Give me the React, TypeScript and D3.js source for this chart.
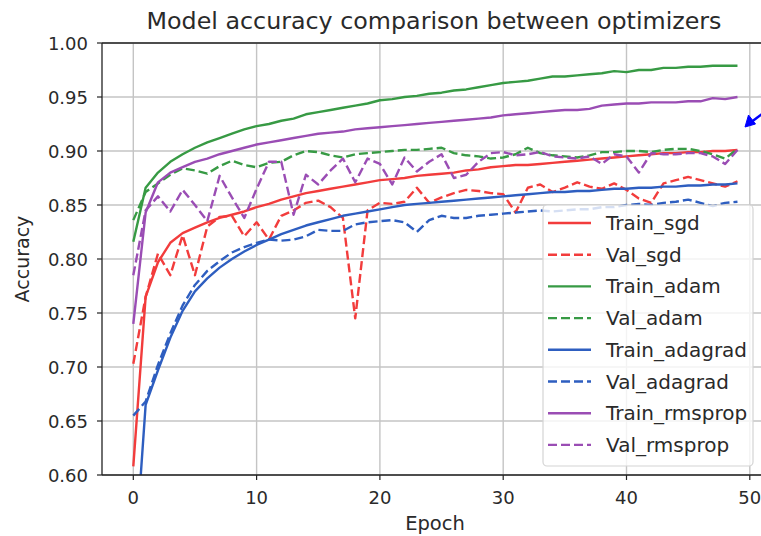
import React from "react";
import * as d3 from "d3";

const title = "Model accuracy comparison between optimizers";
const xTicks = [0, 10, 20, 30, 40, 50];
const yTicks = [0.6, 0.65, 0.7, 0.75, 0.8, 0.85, 0.9, 0.95, 1.0];

const trainSgd = [0.608, 0.765, 0.797, 0.815, 0.824, 0.829, 0.834, 0.838, 0.841, 0.844, 0.848, 0.851, 0.855, 0.858, 0.861, 0.863, 0.865, 0.867, 0.869, 0.871, 0.873, 0.874, 0.875, 0.877, 0.878, 0.879, 0.880, 0.882, 0.883, 0.885, 0.886, 0.887, 0.887, 0.888, 0.889, 0.890, 0.891, 0.892, 0.893, 0.894, 0.895, 0.896, 0.897, 0.898, 0.898, 0.899, 0.899, 0.900, 0.900, 0.901];
const valSgd = [0.703, 0.765, 0.805, 0.785, 0.822, 0.785, 0.830, 0.839, 0.840, 0.821, 0.834, 0.818, 0.840, 0.845, 0.852, 0.854, 0.848, 0.838, 0.745, 0.845, 0.852, 0.851, 0.853, 0.866, 0.852, 0.857, 0.861, 0.864, 0.863, 0.861, 0.860, 0.843, 0.866, 0.869, 0.862, 0.866, 0.871, 0.867, 0.865, 0.870, 0.864, 0.856, 0.852, 0.870, 0.873, 0.876, 0.873, 0.870, 0.867, 0.872];
const trainAdam = [0.816, 0.866, 0.880, 0.890, 0.897, 0.903, 0.908, 0.912, 0.916, 0.920, 0.923, 0.925, 0.928, 0.930, 0.934, 0.936, 0.938, 0.940, 0.942, 0.944, 0.947, 0.948, 0.950, 0.951, 0.953, 0.954, 0.956, 0.957, 0.959, 0.961, 0.963, 0.964, 0.965, 0.967, 0.969, 0.969, 0.970, 0.971, 0.972, 0.974, 0.973, 0.975, 0.975, 0.977, 0.977, 0.978, 0.978, 0.979, 0.979, 0.979];
const valAdam = [0.836, 0.862, 0.870, 0.878, 0.884, 0.882, 0.879, 0.886, 0.891, 0.887, 0.885, 0.889, 0.890, 0.896, 0.900, 0.899, 0.896, 0.894, 0.897, 0.898, 0.899, 0.900, 0.901, 0.901, 0.902, 0.903, 0.898, 0.896, 0.895, 0.893, 0.894, 0.897, 0.903, 0.898, 0.896, 0.895, 0.894, 0.896, 0.899, 0.899, 0.900, 0.900, 0.899, 0.901, 0.902, 0.902, 0.900, 0.897, 0.893, 0.902];
const trainAdagrad = [0.500, 0.665, 0.697, 0.727, 0.752, 0.770, 0.782, 0.792, 0.800, 0.807, 0.813, 0.818, 0.823, 0.827, 0.831, 0.834, 0.837, 0.840, 0.842, 0.844, 0.846, 0.848, 0.850, 0.851, 0.852, 0.853, 0.854, 0.855, 0.856, 0.857, 0.858, 0.859, 0.860, 0.861, 0.862, 0.862, 0.863, 0.863, 0.864, 0.865, 0.865, 0.866, 0.866, 0.867, 0.867, 0.868, 0.868, 0.869, 0.869, 0.870];
const valAdagrad = [0.655, 0.668, 0.702, 0.731, 0.757, 0.776, 0.789, 0.798, 0.806, 0.811, 0.815, 0.818, 0.817, 0.818, 0.821, 0.827, 0.826, 0.826, 0.832, 0.834, 0.835, 0.836, 0.834, 0.825, 0.836, 0.840, 0.838, 0.838, 0.840, 0.841, 0.842, 0.843, 0.844, 0.845, 0.844, 0.845, 0.846, 0.846, 0.848, 0.848, 0.850, 0.851, 0.850, 0.852, 0.853, 0.855, 0.852, 0.849, 0.852, 0.853];
const trainRmsprop = [0.740, 0.843, 0.871, 0.880, 0.885, 0.890, 0.893, 0.897, 0.900, 0.903, 0.906, 0.908, 0.910, 0.912, 0.914, 0.916, 0.917, 0.918, 0.920, 0.921, 0.922, 0.923, 0.924, 0.925, 0.926, 0.927, 0.928, 0.929, 0.930, 0.931, 0.933, 0.934, 0.935, 0.936, 0.937, 0.938, 0.938, 0.939, 0.942, 0.943, 0.944, 0.944, 0.945, 0.945, 0.945, 0.946, 0.946, 0.949, 0.948, 0.950];
const valRmsprop = [0.785, 0.845, 0.858, 0.844, 0.864, 0.850, 0.835, 0.877, 0.857, 0.838, 0.865, 0.890, 0.890, 0.841, 0.878, 0.869, 0.882, 0.893, 0.871, 0.893, 0.888, 0.869, 0.894, 0.881, 0.890, 0.897, 0.875, 0.878, 0.890, 0.898, 0.899, 0.896, 0.897, 0.899, 0.895, 0.894, 0.893, 0.895, 0.888, 0.897, 0.895, 0.880, 0.898, 0.897, 0.897, 0.898, 0.898, 0.895, 0.888, 0.901];

const RED = "#f23c3c";
const GREEN = "#379a44";
const BLUE = "#2e5ec0";
const PURPLE = "#9a4db4";

const seriesNames = ["Train_sgd", "Val_sgd", "Train_adam", "Val_adam", "Train_adagrad", "Val_adagrad", "Train_rmsprop", "Val_rmsprop"];
const seriesValues = [trainSgd, valSgd, trainAdam, valAdam, trainAdagrad, valAdagrad, trainRmsprop, valRmsprop];
const seriesColors = [RED, RED, GREEN, GREEN, BLUE, BLUE, PURPLE, PURPLE];
const seriesDashed = [false, true, false, true, false, true, false, true];

const W = 761;
const H = 536;
const LEFT = 102;
const TOP = 43;
const BOTTOM = 475;
const FONT = "'DejaVu Sans', sans-serif";
const DASH = "9,4";
const LW = 2.4;
const TEXT = "#2a2a2a";

export default function App() {
  const x = d3.scaleLinear().domain([0, 50]).range([133.3, 749.8]);
  const y = d3.scaleLinear().domain([0.6, 1.0]).range([BOTTOM, TOP]);
  const line = d3
    .line<number>()
    .x((_, i) => x(i))
    .y((d) => y(d));

  const legendX = 543;
  const legendY = 205;
  const rowH = 31.7;

  return (
    <div style={{ position: "absolute", left: 0, top: 0 }}>
      <svg width={W} height={H} style={{ display: "block", background: "#fff" }} fontFamily={FONT}>
        <defs>
          <clipPath id="plot">
            <rect x={LEFT} y={TOP} width={W - LEFT + 10} height={BOTTOM - TOP} />
          </clipPath>
        </defs>
        <rect x={0} y={0} width={W} height={H} fill="#fff" />
        {/* grid */}
        <g stroke="#c4c4c4" strokeWidth={1.4}>
          {xTicks.map((t) => (
            <line key={"gx" + t} x1={x(t)} x2={x(t)} y1={TOP} y2={BOTTOM} />
          ))}
          {yTicks.map((t) => (
            <line key={"gy" + t} x1={LEFT} x2={W} y1={y(t)} y2={y(t)} />
          ))}
        </g>
        {/* series */}
        <g clipPath="url(#plot)" fill="none" strokeLinejoin="round">
          {seriesValues.map((vals, i) => (
            <path
              key={seriesNames[i]}
              d={line(vals) || ""}
              stroke={seriesColors[i]}
              strokeWidth={LW}
              strokeDasharray={seriesDashed[i] ? DASH : undefined}
            />
          ))}
        </g>
        {/* spines */}
        <g stroke="#222" strokeWidth={1.3}>
          <line x1={LEFT} x2={LEFT} y1={TOP} y2={BOTTOM} />
          <line x1={LEFT} x2={W} y1={BOTTOM} y2={BOTTOM} />
          <line x1={LEFT} x2={W} y1={TOP} y2={TOP} />
        </g>
        {/* y ticks */}
        <g>
          {yTicks.map((t) => (
            <g key={"yt" + t}>
              <line x1={LEFT - 5} x2={LEFT} y1={y(t)} y2={y(t)} stroke="#222" strokeWidth={1.2} />
              <text x={LEFT - 14} y={y(t)} textAnchor="end" dominantBaseline="central" fontSize={18} fill={TEXT}>
                {d3.format(".2f")(t)}
              </text>
            </g>
          ))}
        </g>
        {/* x ticks */}
        <g>
          {xTicks.map((t) => (
            <g key={"xt" + t}>
              <line x1={x(t)} x2={x(t)} y1={BOTTOM} y2={BOTTOM + 5} stroke="#222" strokeWidth={1.2} />
              <text x={x(t)} y={BOTTOM + 22} textAnchor="middle" dominantBaseline="central" fontSize={18} fill={TEXT}>
                {String(t)}
              </text>
            </g>
          ))}
        </g>
        <text x={435} y={523} textAnchor="middle" dominantBaseline="central" fontSize={19.5} fill={TEXT}>
          Epoch
        </text>
        <text
          transform={`translate(22,${(TOP + BOTTOM) / 2}) rotate(-90)`}
          textAnchor="middle"
          dominantBaseline="central"
          fontSize={19}
          fill={TEXT}
        >
          Accuracy
        </text>
        <text
          x={434}
          y={21}
          textAnchor="middle"
          dominantBaseline="central"
          fontSize={23.5}
          fill={TEXT}
          textLength={575}
          lengthAdjust="spacingAndGlyphs"
        >
          {title}
        </text>
        {/* legend */}
        <g>
          <rect
            x={legendX}
            y={legendY}
            width={210}
            height={261}
            rx={4}
            fill="#ffffff"
            fillOpacity={0.8}
            stroke="#d4d4d4"
            strokeWidth={1.2}
          />
          {seriesNames.map((name, i) => {
            const yy = legendY + 18 + i * rowH;
            return (
              <g key={"lg" + name}>
                <line
                  x1={legendX + 5}
                  x2={legendX + 48}
                  y1={yy}
                  y2={yy}
                  stroke={seriesColors[i]}
                  strokeWidth={LW}
                  strokeDasharray={seriesDashed[i] ? DASH : undefined}
                />
                <text x={legendX + 63} y={yy} dominantBaseline="central" fontSize={20} fill={TEXT}>
                  {name}
                </text>
              </g>
            );
          })}
        </g>
        {/* annotation arrow */}
        <g fill="#0000ff" stroke="#0000ff">
          <line x1={762} x2={752} y1={114} y2={121.5} strokeWidth={2.5} />
          <path d="M745,127 L748.5,115 L755.5,124 Z" strokeWidth={1} />
        </g>
      </svg>
    </div>
  );
}
